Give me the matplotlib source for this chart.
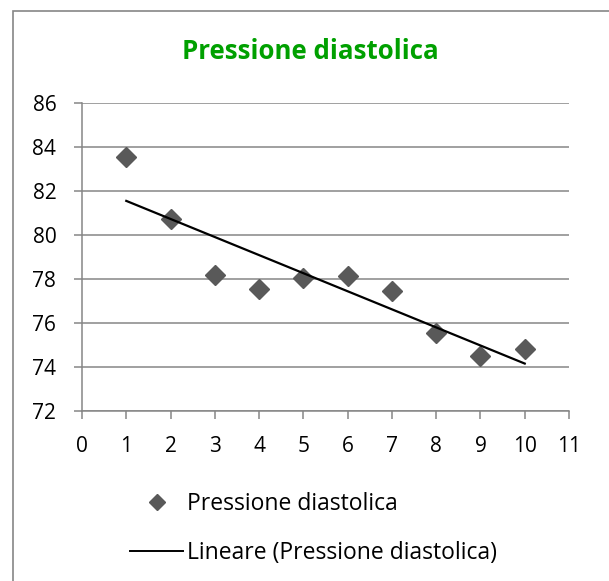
import numpy as np
import matplotlib
matplotlib.use("Agg")
import matplotlib.pyplot as plt
from matplotlib.lines import Line2D
from matplotlib.patches import Rectangle

x_vals = [1, 2, 3, 4, 5, 6, 7, 8, 9, 10]
pressione = [83.55, 80.71, 78.17, 77.53, 78.02, 78.14, 77.44, 75.55, 74.50, 74.79]
title = "Pressione diastolica"
series_label = "Pressione diastolica"
trend_label = "Lineare (Pressione diastolica)"
y_ticks = [72, 74, 76, 78, 80, 82, 84, 86]
x_ticks = list(range(0, 12))

plt.rcParams['font.family'] = ['Open Sans', 'DejaVu Sans']

W, H = 609, 581
fig = plt.figure(figsize=(W / 100, H / 100), dpi=100)
fig.patch.set_facecolor('white')

# outer chart-area border (right/bottom edges lie outside the image)
fig.add_artist(Rectangle((13 / W, 1 - 600 / H), (620 - 13) / W, (600 - 11) / H,
                         transform=fig.transFigure, fill=False,
                         edgecolor='#868686', linewidth=1.2))

left, right, top, bottom = 82, 569, 102.7, 410.7
ax = fig.add_axes([left / W, 1 - bottom / H, (right - left) / W, (bottom - top) / H])

grid_c = '#868686'
ax.set_xlim(0, 11)
ax.set_ylim(72, 86)
ax.set_yticks(y_ticks)
ax.set_xticks(x_ticks)
ax.yaxis.grid(True, color=grid_c, linewidth=1.1)
ax.set_axisbelow(True)
for s in ['top', 'right']:
    ax.spines[s].set_visible(False)
for s in ['left', 'bottom']:
    ax.spines[s].set_color(grid_c)
    ax.spines[s].set_linewidth(1.1)
ax.tick_params(axis='both', colors=grid_c, length=5.5, width=1.1, direction='out',
               labelcolor='black', labelsize=15)
ax.tick_params(axis='x', pad=13)
ax.tick_params(axis='y', pad=13)

ax.plot(x_vals, pressione, linestyle='none', marker='D', markersize=10,
        color='#595959', zorder=3)

coef = np.polyfit(x_vals, pressione, 1)
xt = np.array([x_vals[0], x_vals[-1]])
ax.plot(xt, np.polyval(coef, xt), color='black', linewidth=1.6, zorder=4)

fig.text(310 / W, 1 - 59.3 / H, title, ha='center', va='baseline',
         fontsize=18.6, fontweight='bold', color='#00A000')

# legend
fs = 16.5
fs_px = fs * 100 / 72
handles = [Line2D([], [], linestyle='none', marker='D', markersize=8.3, color='#595959'),
           Line2D([], [], color='black', linewidth=1.4)]
leg = fig.legend(handles, [series_label, trend_label], loc='upper left',
                 bbox_to_anchor=(130 / W, 1 - 492 / H), frameon=False,
                 fontsize=fs, handlelength=53 / fs_px, handletextpad=4 / fs_px,
                 labelspacing=1.1, borderpad=0, borderaxespad=0)

fig.savefig('out.png', dpi=100, facecolor='white')
